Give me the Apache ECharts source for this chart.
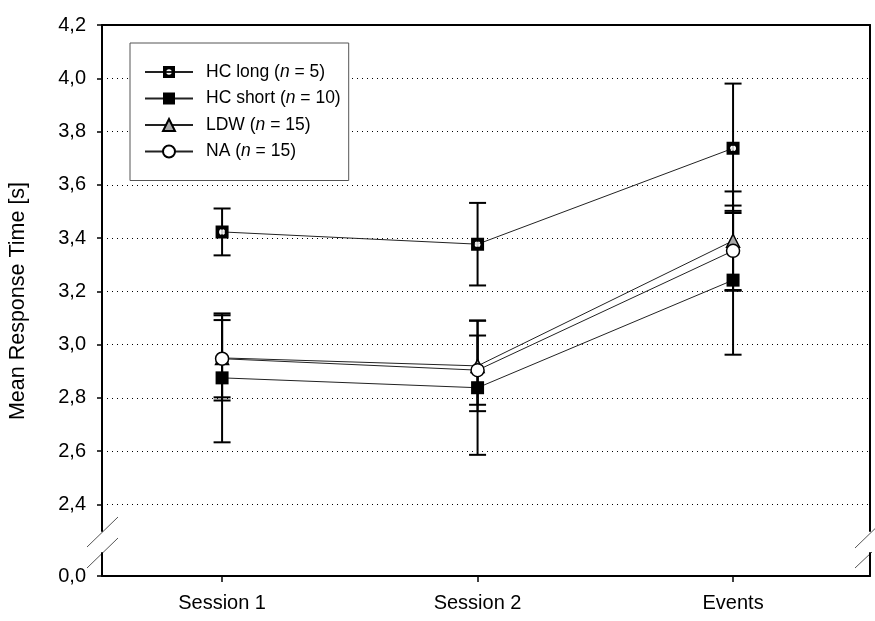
<!DOCTYPE html>
<html><head><meta charset="utf-8">
<script src="https://cdn.jsdelivr.net/npm/echarts@6/dist/echarts.min.js"></script>
<style>html,body{margin:0;padding:0;background:#fff}#c{width:875px;height:621px}</style>
</head><body><div id="c"></div>
<script>
// ---- data ----
const categories = ['Session 1', 'Session 2', 'Events'];
const xPositions = [1, 2, 3];
const yTicks = [2.4, 2.6, 2.8, 3.0, 3.2, 3.4, 3.6, 3.8, 4.0, 4.2];
const gridValues = [2.4, 2.6, 2.8, 3.0, 3.2, 3.4, 3.6, 3.8, 4.0];
const lowTicks = [0];
const seriesNames = ['HC long (n = 5)', 'HC short (n = 10)', 'LDW (n = 15)', 'NA (n = 15)'];
const hcLong = [3.423, 3.377, 3.737];
const hcLongErr = [0.088, 0.155, 0.243];
const hcShort = [2.875, 2.838, 3.242];
const hcShortErr = [0.242, 0.252, 0.280];
const ldw = [2.950, 2.920, 3.390];
const ldwErr = [0.160, 0.170, 0.185];
const na = [2.947, 2.904, 3.352];
const naErr = [0.145, 0.130, 0.150];

const FONT = 'Liberation Sans, Arial, sans-serif';
const xMin = 0.53, xMax = 3.536;

function pts(vals) { return xPositions.map((x, i) => [x, vals[i]]); }
function errPts(vals, errs) { return xPositions.map((x, i) => [x, vals[i], errs[i]]); }

function renderErr(params, api) {
  const x = api.value(0), y = api.value(1), e = api.value(2);
  const t = api.coord([x, y + e]);
  const b = api.coord([x, y - e]);
  const hw = 8.5;
  const st = { stroke: '#000', lineWidth: 2 };
  return {
    type: 'group', children: [
      { type: 'line', shape: { x1: t[0], y1: t[1], x2: b[0], y2: b[1] }, style: st },
      { type: 'line', shape: { x1: t[0] - hw, y1: t[1], x2: t[0] + hw, y2: t[1] }, style: st },
      { type: 'line', shape: { x1: b[0] - hw, y1: b[1], x2: b[0] + hw, y2: b[1] }, style: st }
    ]
  };
}

const allErr = [].concat(errPts(hcLong, hcLongErr), errPts(hcShort, hcShortErr), errPts(ldw, ldwErr), errPts(na, naErr));

const lineStyle = { color: '#222', width: 1 };
const axisLineStyle = { color: '#000', width: 2 };

const chart = echarts.init(document.getElementById('c'));
chart.setOption({
  animation: false,
  backgroundColor: '#fff',
  textStyle: { fontFamily: FONT },
  grid: [
    { left: 102, right: 5, top: 25, height: 506 },
    { left: 102, right: 5, top: 553, height: 23 }
  ],
  xAxis: [
    { gridIndex: 0, type: 'value', min: xMin, max: xMax, position: 'top',
      axisLine: { show: true, onZero: false, lineStyle: axisLineStyle },
      axisTick: { show: false }, axisLabel: { show: false }, splitLine: { show: false } },
    { gridIndex: 1, type: 'value', min: xMin, max: xMax, position: 'bottom',
      axisLine: { show: true, onZero: false, lineStyle: axisLineStyle },
      axisTick: { show: true, customValues: xPositions, length: 6, lineStyle: { color: '#000', width: 1.5 } },
      axisLabel: { show: true, customValues: xPositions, margin: 17, fontSize: 20, color: '#000', fontFamily: FONT,
        formatter: v => categories[xPositions.indexOf(Math.round(v))] },
      splitLine: { show: false } }
  ],
  yAxis: [
    { gridIndex: 0, type: 'value', min: 2.3, max: 4.2, position: 'left',
      axisLine: { show: true, onZero: false, lineStyle: axisLineStyle },
      axisTick: { show: true, customValues: yTicks, length: 5, lineStyle: { color: '#000', width: 1.5 } },
      axisLabel: { show: true, customValues: yTicks, margin: 16, fontSize: 20, color: '#000', fontFamily: FONT,
        formatter: v => v.toFixed(1).replace('.', ',') },
      splitLine: { show: false } },
    { gridIndex: 0, type: 'value', min: 2.3, max: 4.2, position: 'right',
      axisLine: { show: true, onZero: false, lineStyle: axisLineStyle },
      axisTick: { show: false }, axisLabel: { show: false }, splitLine: { show: false } },
    { gridIndex: 1, type: 'value', min: 0, max: 0.1, position: 'left',
      axisLine: { show: true, onZero: false, lineStyle: axisLineStyle },
      axisTick: { show: true, customValues: lowTicks, length: 5, lineStyle: { color: '#000', width: 1.5 } },
      axisLabel: { show: true, customValues: lowTicks, margin: 16, fontSize: 20, color: '#000', fontFamily: FONT,
        formatter: v => v.toFixed(1).replace('.', ',') },
      splitLine: { show: false } },
    { gridIndex: 1, type: 'value', min: 0, max: 0.1, position: 'right',
      axisLine: { show: true, onZero: false, lineStyle: axisLineStyle },
      axisTick: { show: false }, axisLabel: { show: false }, splitLine: { show: false } }
  ],
  legend: {
    orient: 'vertical', left: 130, top: 43, z: 20,
    padding: [20, 8, 20, 14],
    itemWidth: 48, itemHeight: 15, itemGap: 8.5,
    borderColor: '#555', borderWidth: 1, backgroundColor: '#fff',
    data: seriesNames,
    textStyle: { fontSize: 17.5, color: '#000', fontFamily: FONT, padding: [0, 0, 0, 8],
      rich: { i: { fontStyle: 'italic', fontSize: 17.5, color: '#000', fontFamily: FONT } } },
    formatter: name => name.replace('(n =', '({i|n} =')
  },
  series: [
    { type: 'line', xAxisIndex: 0, yAxisIndex: 0, data: [], silent: true, z: 1,
      markLine: { silent: true, symbol: 'none', label: { show: false }, z: 1,
        lineStyle: { color: '#000', type: [1, 4], width: 1 },
        data: gridValues.map(v => ({ yAxis: v })) } },
    { type: 'custom', name: 'err', xAxisIndex: 0, yAxisIndex: 0, data: allErr, renderItem: renderErr, z: 2, silent: true },
    { type: 'line', name: seriesNames[0], xAxisIndex: 0, yAxisIndex: 0, data: pts(hcLong), z: 3,
      symbol: 'path://M0,0H12V12H0ZM6,3.3A2.7,2.7,0,1,0,6,8.7A2.7,2.7,0,1,0,6,3.3Z', symbolSize: 13,
      lineStyle: lineStyle, itemStyle: { color: '#000' } },
    { type: 'scatter', name: 'hcLongDot', xAxisIndex: 0, yAxisIndex: 0, data: pts(hcLong), z: 4, silent: true,
      symbol: 'circle', symbolSize: 5, itemStyle: { color: '#fff' } },
    { type: 'line', name: seriesNames[1], xAxisIndex: 0, yAxisIndex: 0, data: pts(hcShort), z: 3,
      symbol: 'rect', symbolSize: 13, lineStyle: lineStyle, itemStyle: { color: '#000' } },
    { type: 'line', name: seriesNames[2], xAxisIndex: 0, yAxisIndex: 0, data: pts(ldw), z: 3,
      symbol: 'triangle', symbolSize: 13, lineStyle: lineStyle,
      itemStyle: { color: '#a8a8a8', borderColor: '#000', borderWidth: 1.5 } },
    { type: 'line', name: seriesNames[3], xAxisIndex: 0, yAxisIndex: 0, data: pts(na), z: 3,
      symbol: 'circle', symbolSize: 13, lineStyle: lineStyle,
      itemStyle: { color: '#fff', borderColor: '#000', borderWidth: 1.5 } }
  ],
  graphic: [
    { type: 'text', x: 18, y: 301, rotation: Math.PI / 2,
      style: { text: 'Mean Response Time [s]', font: '21.5px ' + FONT, fill: '#000', align: 'center', verticalAlign: 'middle' } },
    { type: 'line', shape: { x1: 87, y1: 547, x2: 118, y2: 517 }, style: { stroke: '#555', lineWidth: 1 } },
    { type: 'line', shape: { x1: 87, y1: 568, x2: 118, y2: 538 }, style: { stroke: '#555', lineWidth: 1 } },
    { type: 'line', shape: { x1: 855, y1: 548, x2: 886, y2: 518 }, style: { stroke: '#555', lineWidth: 1 } },
    { type: 'line', shape: { x1: 855, y1: 568, x2: 872, y2: 552 }, style: { stroke: '#555', lineWidth: 1 } }
  ]
});
</script></body></html>
